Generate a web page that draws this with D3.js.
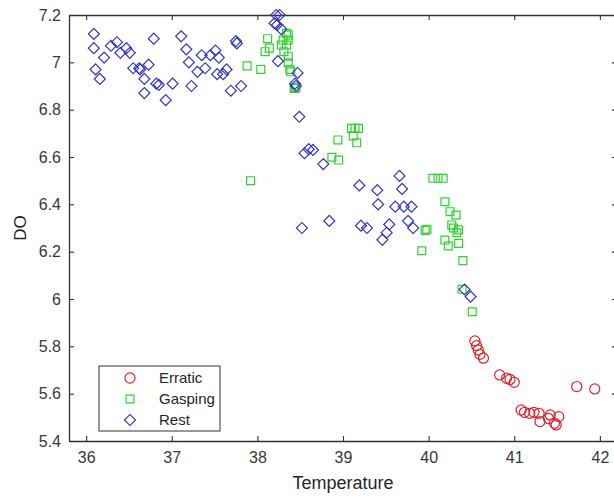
<!DOCTYPE html>
<html>
<head>
<meta charset="utf-8">
<script src="https://cdn.jsdelivr.net/npm/d3@7"></script>
<style>
  html, body { margin: 0; padding: 0; background: #fff; }
  svg { display: block; font-family: "Liberation Sans", Arial, Helvetica, sans-serif; }
</style>
</head>
<body>
<svg id="chart" width="614" height="496"></svg>
<script>
// ---- data ----
const groups = ["Erratic", "Gasping", "Rest"];
const xTicks = [36, 37, 38, 39, 40, 41, 42];
const yTicks = [5.4, 5.6, 5.8, 6, 6.2, 6.4, 6.6, 6.8, 7, 7.2];

const erraticT  = [40.54, 40.56, 40.58, 40.60, 40.64, 40.83, 40.91, 40.95, 41.00, 41.73, 41.94, 41.08, 41.12, 41.18, 41.23, 41.29, 41.30, 41.42, 41.40, 41.47, 41.52, 41.49];
const erraticDO = [5.823, 5.803, 5.785, 5.766, 5.750, 5.679, 5.665, 5.660, 5.648, 5.630, 5.620, 5.531, 5.521, 5.517, 5.521, 5.517, 5.482, 5.510, 5.495, 5.475, 5.503, 5.468];

const gaspingT  = [37.92, 37.88, 38.04, 38.09, 38.14, 38.12, 38.34, 38.36, 38.30, 38.36, 38.28, 38.34, 38.31, 38.36, 38.36, 38.38, 38.39, 38.43, 38.44, 38.45,
                   39.10, 39.14, 39.18, 39.12, 39.16, 38.94, 38.87, 38.95,
                   40.05, 40.11, 40.17, 40.19, 40.25, 40.32, 40.27, 40.29, 40.35, 40.33, 40.19, 40.23, 40.35, 39.98, 39.96, 39.92, 40.40, 40.39, 40.51];
const gaspingDO = [6.500, 6.985, 6.970, 7.045, 7.060, 7.100, 7.123, 7.115, 7.094, 7.094, 7.073, 7.073, 7.045, 7.026, 6.998, 6.970, 6.960, 6.890, 6.890, 6.895,
                   6.721, 6.721, 6.721, 6.689, 6.660, 6.672, 6.599, 6.587,
                   6.510, 6.510, 6.510, 6.411, 6.369, 6.355, 6.313, 6.300, 6.292, 6.280, 6.249, 6.224, 6.235, 6.295, 6.290, 6.204, 6.162, 6.041, 5.946];

const restT  = [36.09, 36.09, 36.21, 36.11, 36.16, 36.29, 36.36, 36.40, 36.47, 36.51, 36.55, 36.62, 36.63, 36.73, 36.68, 36.68, 36.79, 36.82, 36.85, 36.93,
                37.01, 37.11, 37.17, 37.20, 37.23, 37.30, 37.35, 37.39, 37.45, 37.51, 37.55, 37.53, 37.60, 37.64, 37.69, 37.75, 37.76, 37.81,
                38.22, 38.26, 38.20, 38.23, 38.28, 38.24, 38.47, 38.44, 38.45, 38.49, 38.55, 38.60, 38.65, 38.77, 38.52, 38.84,
                39.19, 39.21, 39.28, 39.40, 39.41, 39.46, 39.51, 39.54, 39.61, 39.66, 39.69, 39.71, 39.80, 39.76, 39.82, 40.42, 40.49];
const restDO = [7.120, 7.060, 7.020, 6.970, 6.930, 7.070, 7.085, 7.040, 7.060, 7.040, 6.975, 6.975, 6.970, 6.990, 6.930, 6.870, 7.100, 6.910, 6.905, 6.840,
                6.910, 7.110, 7.055, 7.000, 6.900, 6.960, 7.030, 6.975, 7.030, 7.050, 7.020, 6.950, 6.950, 6.970, 6.880, 7.090, 7.080, 6.900,
                7.200, 7.200, 7.165, 7.158, 7.140, 7.005, 6.955, 6.910, 6.900, 6.770, 6.616, 6.633, 6.630, 6.570, 6.300, 6.330,
                6.480, 6.310, 6.300, 6.460, 6.400, 6.250, 6.280, 6.315, 6.390, 6.520, 6.465, 6.390, 6.390, 6.330, 6.300, 6.040, 6.010];

const seriesT  = [erraticT, gaspingT, restT];
const seriesDO = [erraticDO, gaspingDO, restDO];
const colors = ["#e0202a", "#2fd12f", "#3434c4"];

// ---- layout ----
const svg = d3.select("#chart");
const x = d3.scaleLinear().domain([35.8, 42.2]).range([69, 617]);
const y = d3.scaleLinear().domain([5.4, 7.2]).range([441, 15]);
const axisColor = "#333333";

const symbols = [
  d3.symbol().type(d3.symbolCircle).size(80),
  d3.symbol().type(d3.symbolSquare).size(62),
  d3.symbol().type(d3.symbolSquare).size(60)
];
const rotations = [0, 0, 45];

// ---- axes ----
function styleAxis(g) {
  g.select(".domain").attr("stroke", axisColor).attr("stroke-width", 1.3);
  g.selectAll(".tick line").attr("stroke", axisColor).attr("stroke-width", 1.1);
  g.selectAll(".tick text").attr("fill", "#383838").style("font-size", "16px");
}

svg.append("g").attr("transform", `translate(0,${y(5.4)})`)
  .call(d3.axisBottom(x).tickValues(xTicks).tickFormat(d3.format("d")).tickSize(-5).tickSizeOuter(0).tickPadding(11))
  .call(styleAxis).attr("font-family", null);

svg.append("g").attr("transform", `translate(0,${y(7.2)})`)
  .call(d3.axisTop(x).tickValues(xTicks).tickFormat("").tickSize(-5).tickSizeOuter(0))
  .call(styleAxis);

svg.append("g").attr("transform", `translate(${x(35.8)},0)`)
  .call(d3.axisLeft(y).tickValues(yTicks).tickFormat(d3.format("~g")).tickSize(-5).tickSizeOuter(0).tickPadding(8))
  .call(styleAxis).attr("font-family", null);

svg.append("g").attr("transform", `translate(${x(42.2)},0)`)
  .call(d3.axisRight(y).tickValues(yTicks).tickFormat("").tickSize(-5).tickSizeOuter(0))
  .call(styleAxis);

// axis labels
svg.append("text")
  .attr("x", (x(35.8) + x(42.2)) / 2).attr("y", 489)
  .attr("text-anchor", "middle").attr("fill", "#262626")
  .style("font-size", "18px").text("Temperature");

svg.append("text")
  .attr("transform", `translate(26,${(y(5.4) + y(7.2)) / 2}) rotate(-90)`)
  .attr("text-anchor", "middle").attr("fill", "#262626")
  .style("font-size", "17px").text("DO");

// ---- points ----
groups.forEach((name, i) => {
  const pts = seriesT[i].map((t, k) => ({ t, v: seriesDO[i][k] }));
  svg.append("g").selectAll("path").data(pts).join("path")
    .attr("d", symbols[i])
    .attr("transform", d => `translate(${x(d.t)},${y(d.v)}) rotate(${rotations[i]})`)
    .attr("fill", "none")
    .attr("stroke", colors[i])
    .attr("stroke-width", 1.2);
});

// ---- legend ----
const legend = svg.append("g").attr("transform", "translate(99,366)");
legend.append("rect").attr("x", 0).attr("y", 0).attr("width", 121).attr("height", 65)
  .attr("fill", "#fff").attr("stroke", "#333").attr("stroke-width", 1);
groups.forEach((name, i) => {
  const ry = 12 + i * 21;
  legend.append("path").attr("d", symbols[i])
    .attr("transform", `translate(31,${ry}) rotate(${rotations[i]})`)
    .attr("fill", "none").attr("stroke", colors[i]).attr("stroke-width", 1.2);
  legend.append("text").attr("x", 60).attr("y", ry).attr("dy", "0.35em")
    .attr("fill", "#262626").style("font-size", "15px").text(name);
});
</script>
</body>
</html>
